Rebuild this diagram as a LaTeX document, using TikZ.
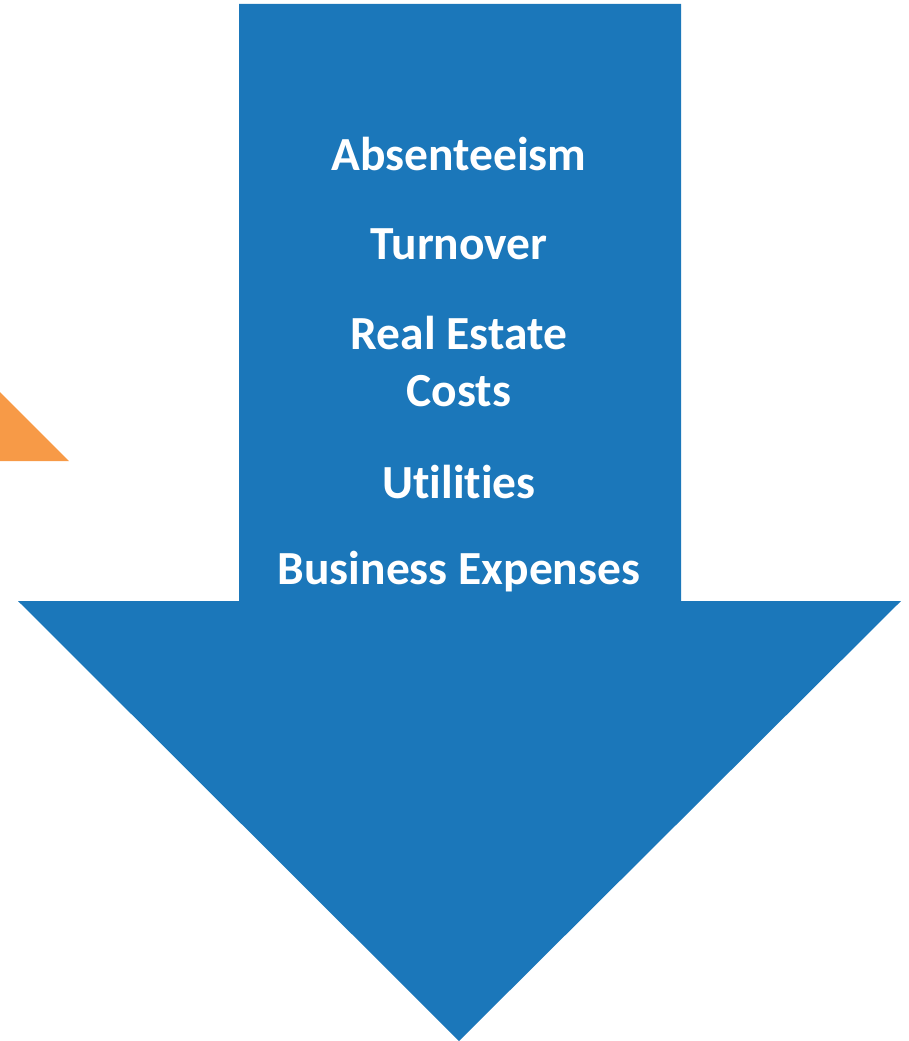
\documentclass[tikz,border=0pt]{standalone}
\usepackage{fontspec}
\setmainfont[Ligatures={NoCommon}]{Carlito}
\definecolor{arrowblue}{HTML}{1B77BA}
\definecolor{accentorange}{HTML}{F79A47}
\begin{document}
\begin{tikzpicture}[x=1pt,y=-1pt,
  label text/.style={text=white,font=\fontsize{47.5}{57}\selectfont\bfseries,align=center,inner sep=0pt}]
\useasboundingbox (0,0) rectangle (908,1041);
% orange corner triangle on the left edge
\fill[accentorange] (0,392) -- (69,461) -- (0,461) -- cycle;
% big downward arrow
\fill[arrowblue] (239,4) -- (681,4) -- (681,601) -- (901,601) -- (459,1041)
  -- (18,601) -- (239,601) -- cycle;
% labels inside the shaft
\node[label text] (abs) at (459,154) {Absenteeism};
\node[label text] (turn) at (459,244) {Turnover};
\node[label text] (real) at (459,362) {Real Estate\\Costs};
\node[label text] (util) at (459,482) {Utilities};
\node[label text] (biz) at (459,572) {Business Expenses};
\end{tikzpicture}
\end{document}
